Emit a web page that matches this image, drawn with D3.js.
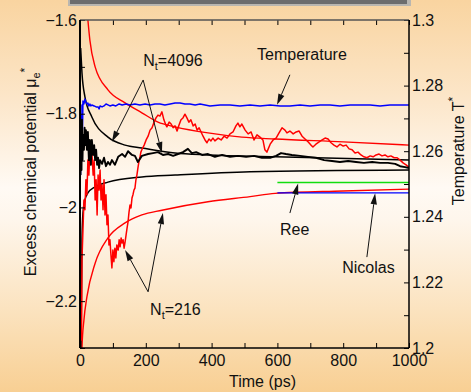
<!DOCTYPE html>
<html><head><meta charset="utf-8">
<script src="https://cdn.jsdelivr.net/npm/d3@7"></script>
<style>html,body{margin:0;padding:0;overflow:hidden;background:#fff}svg{display:block}</style>
</head><body><svg id="c" width="471" height="392"></svg>
<script>
// ---------- data ----------
const timeDomain = [0, 1000];
const muDomain = [-2.3, -1.6];
const tempDomain = [1.2, 1.3];
const timeTicks = [0, 200, 400, 600, 800, 1000];
const timeMinorTicks = [100, 300, 500, 700, 900];
const muTicks = [-2.2, -2, -1.8, -1.6];
const muTickLabels = ["\u22122.2", "\u22122", "\u22121.8", "\u22121.6"];
const muMinorTicks = [-2.3, -2.1, -1.9, -1.7];
const tempTicks = [1.2, 1.22, 1.24, 1.26, 1.28, 1.3];
const tempTickLabels = ["1.2", "1.22", "1.24", "1.26", "1.28", "1.3"];
const tempMinorTicks = [1.21, 1.23, 1.25, 1.27, 1.29];

// temperature T* (right axis), [time ps, T*]
const temperature = [[1.5,1.2527],[3,1.2634],[4,1.2710],[5,1.2573],[6,1.2741],[7.6,1.2665],[9,1.2753],[12,1.2744],[15,1.2759],[18,1.2750],[21,1.2744],[24,1.2747],[27,1.2738],[30,1.2744],[33,1.2738],[36,1.2741],[43,1.2738],[49,1.2735],[55,1.2735],[58,1.2729],[61,1.2738],[67,1.2735],[73,1.2738],[79,1.2744],[85,1.2741],[91,1.2738],[100,1.2741],[109,1.2738],[119,1.2744],[128,1.2741],[140,1.2744],[152,1.2741],[167,1.2744],[182,1.2741],[198,1.2744],[213,1.2741],[228,1.2744],[243,1.2744],[258,1.2741],[274,1.2744],[289,1.2747],[304,1.2747],[319,1.2744],[334,1.2744],[350,1.2741],[365,1.2744],[380,1.2741],[395,1.2738],[426,1.2741],[456,1.2741],[486,1.2738],[517,1.2741],[547,1.2738],[578,1.2741],[608,1.2738],[638,1.2738],[669,1.2741],[699,1.2738],[730,1.2741],[760,1.2741],[790,1.2738],[821,1.2741],[851,1.2741],[882,1.2741],[912,1.2738],[942,1.2741],[973,1.2741],[1000,1.2741]];

// N_t = 216 running estimate, [time, mu]
const mu216 = [[1.5,-2.300],[3,-2.198],[4.6,-2.283],[6,-2.112],[9,-2.048],[12,-1.984],[15,-2.005],[18,-1.941],[21,-1.973],[24,-1.899],[27,-1.931],[30,-1.877],[33,-1.909],[36,-1.882],[40,-1.931],[43,-1.899],[46,-1.984],[49,-1.941],[52,-2.016],[55,-1.931],[58,-1.963],[61,-1.920],[64,-1.984],[67,-1.952],[70,-2.005],[73,-1.941],[76,-2.016],[79,-1.973],[82,-2.037],[85,-2.016],[88,-2.080],[91,-2.069],[94,-2.101],[97,-2.129],[100,-2.091],[103,-2.116],[106,-2.087],[109,-2.108],[112,-2.080],[116,-2.091],[119,-2.069],[122,-2.084],[125,-2.065],[128,-2.076],[131,-2.069],[134,-2.087],[137,-2.074],[140,-2.059],[143,-2.044],[146,-2.031],[149,-2.010],[152,-1.995],[155,-2.001],[158,-1.980],[161,-1.973],[164,-1.963],[167,-1.959],[170,-1.941],[173,-1.931],[176,-1.916],[179,-1.903],[182,-1.894],[185,-1.882],[188,-1.877],[195,-1.867],[201,-1.856],[207,-1.848],[213,-1.835],[219,-1.830],[225,-1.818],[231,-1.809],[237,-1.803],[243,-1.805],[249,-1.796],[255,-1.813],[261,-1.824],[264,-1.828],[271,-1.818],[277,-1.822],[283,-1.830],[289,-1.826],[295,-1.837],[301,-1.824],[307,-1.813],[313,-1.809],[319,-1.801],[325,-1.809],[331,-1.818],[337,-1.813],[344,-1.826],[350,-1.822],[356,-1.835],[362,-1.830],[368,-1.839],[374,-1.848],[380,-1.856],[386,-1.862],[392,-1.854],[398,-1.858],[404,-1.852],[410,-1.858],[420,-1.852],[429,-1.856],[438,-1.848],[447,-1.852],[456,-1.843],[465,-1.839],[474,-1.826],[480,-1.820],[486,-1.828],[492,-1.822],[502,-1.835],[511,-1.843],[520,-1.839],[529,-1.856],[538,-1.845],[547,-1.850],[556,-1.856],[562,-1.877],[568,-1.882],[578,-1.865],[587,-1.856],[596,-1.852],[605,-1.841],[614,-1.830],[623,-1.835],[629,-1.841],[638,-1.837],[648,-1.843],[657,-1.839],[666,-1.837],[675,-1.848],[684,-1.854],[693,-1.860],[702,-1.867],[708,-1.871],[717,-1.865],[727,-1.860],[736,-1.856],[745,-1.852],[754,-1.854],[763,-1.862],[772,-1.867],[781,-1.871],[790,-1.865],[800,-1.869],[809,-1.867],[818,-1.875],[827,-1.877],[836,-1.884],[845,-1.882],[854,-1.888],[863,-1.892],[872,-1.894],[882,-1.890],[891,-1.892],[900,-1.888],[909,-1.886],[918,-1.890],[927,-1.888],[936,-1.892],[945,-1.890],[955,-1.894],[964,-1.894],[973,-1.899],[982,-1.905],[991,-1.909],[1000,-1.914]];
const mu216Upper = [[18,-1.55],[24,-1.600],[30,-1.643],[46,-1.700],[85,-1.749],[137,-1.777],[188,-1.798],[237,-1.818],[289,-1.828],[389,-1.841],[492,-1.850],[593,-1.854],[800,-1.860],[1000,-1.867]];
const mu216Lower = [[4,-2.35],[6,-2.300],[12,-2.240],[21,-2.191],[46,-2.119],[85,-2.065],[137,-2.033],[188,-2.016],[249,-2.006],[389,-1.988],[517,-1.977],[593,-1.970],[800,-1.965],[1000,-1.961]];

// N_t = 4096 running estimate, [time, mu]
const mu4096 = [[1.5,-1.931],[3,-1.824],[4.6,-1.920],[6,-1.813],[7.6,-1.899],[9,-1.845],[12,-1.877],[14,-1.830],[15,-1.867],[18,-1.835],[21,-1.877],[24,-1.839],[27,-1.899],[30,-1.856],[33,-1.909],[36,-1.856],[40,-1.888],[43,-1.867],[46,-1.899],[49,-1.877],[52,-1.909],[55,-1.894],[58,-1.916],[61,-1.899],[67,-1.907],[73,-1.894],[79,-1.912],[85,-1.903],[91,-1.909],[97,-1.899],[106,-1.909],[116,-1.892],[128,-1.886],[137,-1.892],[146,-1.880],[158,-1.888],[167,-1.890],[176,-1.903],[188,-1.890],[207,-1.886],[222,-1.884],[237,-1.882],[252,-1.888],[268,-1.886],[283,-1.890],[298,-1.886],[313,-1.882],[328,-1.875],[340,-1.884],[353,-1.882],[371,-1.888],[389,-1.886],[410,-1.892],[432,-1.888],[456,-1.892],[480,-1.890],[505,-1.892],[529,-1.890],[553,-1.894],[578,-1.894],[596,-1.890],[611,-1.884],[626,-1.886],[644,-1.888],[669,-1.890],[693,-1.892],[717,-1.894],[742,-1.899],[766,-1.901],[790,-1.903],[815,-1.901],[839,-1.903],[863,-1.905],[888,-1.903],[912,-1.905],[936,-1.905],[958,-1.907],[973,-1.912],[988,-1.914],[1000,-1.916]];
const mu4096Upper = [[2,-1.66],[6,-1.713],[15,-1.764],[36,-1.807],[85,-1.850],[137,-1.867],[188,-1.873],[289,-1.884],[389,-1.888],[593,-1.892],[1000,-1.899]];
const mu4096Lower = [[3,-2.300],[6,-2.069],[9,-2.012],[15,-1.984],[24,-1.969],[46,-1.956],[85,-1.946],[188,-1.935],[289,-1.931],[517,-1.924],[1000,-1.920]];

// reference values
const reeLine = [[600,-1.947],[1000,-1.947]];
const nicolasLine = [[600,-1.969],[1000,-1.969]];

// annotations: label anchor [t, mu] and arrows [from, to] in data units
const annotations = [
  {label:["N","t","=4096"], at:[192,-1.698], arrows:[[[192,-1.728],[97,-1.860]],[[192,-1.728],[249,-1.884]]]},
  {label:["Temperature"], at:[538,-1.685], arrows:[[[638,-1.717],[599,-1.781]]]},
  {label:["Ree"], at:[608,-2.059], arrows:[[[638,-2.012],[663,-1.949]]]},
  {label:["Nicolas"], at:[797,-2.140], arrows:[[[872,-2.106],[897,-1.970]]]},
  {label:["N","t","=216"], at:[213,-2.229], arrows:[[[207,-2.180],[137,-2.091]],[[207,-2.180],[252,-2.012]]]}
];

// ---------- drawing ----------
const W = 471, H = 392;
const FONT = "'Liberation Sans', Arial, Helvetica, sans-serif";
const svg = d3.select("#c");
const defs = svg.append("defs");
const grad = defs.append("linearGradient").attr("id","bg").attr("x1",0).attr("y1",0).attr("x2",0).attr("y2",1);
[[0,"#f9d4a0"],[0.25,"#fce6c9"],[0.48,"#fffaf4"],[0.56,"#fef6ec"],[0.8,"#fbe2bd"],[1,"#f8cf93"]]
  .forEach(([o,c]) => grad.append("stop").attr("offset",o).attr("stop-color",c));
svg.append("rect").attr("width",W).attr("height",H).attr("fill","url(#bg)");

// top grey bar
svg.append("rect").attr("x",68).attr("y",-3).attr("width",343).attr("height",9).attr("fill","#b9b6b0");
svg.append("rect").attr("x",70).attr("y",-3).attr("width",337).attr("height",7).attr("fill","#6d6d6d");

const L = 80, R = 409, T = 20, B = 348;
const x = d3.scaleLinear().domain(timeDomain).range([L, R]);
const y = d3.scaleLinear().domain(muDomain).range([B, T]);
const yT = d3.scaleLinear().domain(tempDomain).range([B, T]);

defs.append("clipPath").attr("id","plot").append("rect")
  .attr("x",L).attr("y",T).attr("width",R-L).attr("height",B-T);

const plot = svg.append("g").attr("clip-path","url(#plot)");
const lineMu = d3.line().x(d => x(d[0])).y(d => y(d[1]));
const lineMuSmooth = d3.line().x(d => x(d[0])).y(d => y(d[1])).curve(d3.curveMonotoneX);
const lineT = d3.line().x(d => x(d[0])).y(d => yT(d[1]));

function path(g, data, gen, color, w) {
  g.append("path").datum(data).attr("d", gen).attr("fill","none")
    .attr("stroke", color).attr("stroke-width", w).attr("stroke-linejoin","round");
}
path(plot, mu216Upper, lineMuSmooth, "#ff0000", 1.4);
path(plot, mu216Lower, lineMuSmooth, "#ff0000", 1.4);
path(plot, mu4096Upper, lineMuSmooth, "#000000", 1.5);
path(plot, mu4096Lower, lineMuSmooth, "#000000", 1.5);
path(plot, temperature, lineT, "#0000ff", 1.5);
path(plot, reeLine, lineMu, "#11dd11", 1.5);
path(plot, nicolasLine, lineMu, "#0000ff", 1.4);
path(plot, mu216, lineMu, "#ff0000", 1.5);
path(plot, mu4096, lineMu, "#000000", 1.9);

// axes
function styleAxis(g) {
  g.select(".domain").remove();
  g.selectAll("line").attr("stroke","#000").attr("stroke-width",1);
  g.selectAll("text").attr("font-family",FONT).attr("font-size","16px").attr("fill","#111");
}
const muLabel = v => { const i = muTicks.indexOf(v); return i >= 0 ? muTickLabels[i] : ""; };
const tLabel = v => { const i = tempTicks.indexOf(v); return i >= 0 ? tempTickLabels[i] : ""; };

svg.append("g").attr("transform",`translate(${L},0)`)
  .call(d3.axisLeft(y).tickValues(muTicks.concat(muMinorTicks)).tickSize(-5).tickPadding(3).tickFormat(muLabel))
  .call(styleAxis);
svg.append("g").attr("transform",`translate(${R},0)`)
  .call(d3.axisRight(yT).tickValues(tempTicks.concat(tempMinorTicks)).tickSize(-5).tickPadding(3).tickFormat(tLabel))
  .call(styleAxis);
svg.append("g").attr("transform",`translate(0,${B})`)
  .call(d3.axisBottom(x).tickValues(timeTicks.concat(timeMinorTicks)).tickSize(-5).tickPadding(7)
    .tickFormat(v => timeTicks.includes(v) ? String(v) : ""))
  .call(styleAxis);
svg.append("g").attr("transform",`translate(0,${T})`)
  .call(d3.axisTop(x).tickValues(timeTicks.concat(timeMinorTicks)).tickSize(-5).tickFormat(""))
  .call(styleAxis);

// frame
svg.append("line").attr("x1",L).attr("x2",R).attr("y1",T).attr("y2",T).attr("stroke","#555").attr("stroke-width",1.5);
svg.append("line").attr("x1",L).attr("x2",R).attr("y1",B).attr("y2",B).attr("stroke","#000").attr("stroke-width",1.5);
svg.append("line").attr("x1",L).attr("x2",L).attr("y1",T).attr("y2",B).attr("stroke","#000").attr("stroke-width",2);
svg.append("line").attr("x1",R).attr("x2",R).attr("y1",T).attr("y2",B).attr("stroke","#000").attr("stroke-width",1.5);

// axis titles
svg.append("text").attr("x",262.5).attr("y",387).attr("text-anchor","middle")
  .attr("font-family",FONT).attr("font-size","16px").attr("fill","#111").text("Time (ps)");
const lt = svg.append("text").attr("transform","translate(36,172) rotate(-90)").attr("text-anchor","middle")
  .attr("font-family",FONT).attr("font-size","16px").attr("fill","#111");
lt.append("tspan").text("Excess chemical potential \u03bc");
lt.append("tspan").attr("font-size","11px").attr("dy",4).text("e");
lt.append("tspan").attr("font-size","12px").attr("dy",-11).text("*");
const rt = svg.append("text").attr("transform","translate(464,151) rotate(-90)").attr("text-anchor","middle")
  .attr("font-family",FONT).attr("font-size","16px").attr("fill","#111");
rt.append("tspan").text("Temperature T");
rt.append("tspan").attr("font-size","12px").attr("dy",-7).text("*");

// annotations
const ann = svg.append("g");
function arrow(p0, p1) {
  const x0 = x(p0[0]), y0 = y(p0[1]), x1 = x(p1[0]), y1 = y(p1[1]);
  const a = Math.atan2(y1 - y0, x1 - x0), len = 11, hw = 3.2;
  const bx = x1 - len * Math.cos(a), by = y1 - len * Math.sin(a);
  ann.append("line").attr("x1",x0).attr("y1",y0).attr("x2",bx).attr("y2",by).attr("stroke","#111").attr("stroke-width",1);
  const pts = [[x1,y1],[bx + hw*Math.sin(a), by - hw*Math.cos(a)],[bx - hw*Math.sin(a), by + hw*Math.cos(a)]];
  ann.append("polygon").attr("points", pts.map(p => p.join(",")).join(" ")).attr("fill","#111");
}
annotations.forEach(a => {
  const t = ann.append("text").attr("x", x(a.at[0])).attr("y", y(a.at[1]))
    .attr("font-family",FONT).attr("font-size","16px").attr("fill","#111");
  if (a.label.length === 3) {
    t.append("tspan").text(a.label[0]);
    t.append("tspan").attr("font-size","11px").attr("dy",4).text(a.label[1]);
    t.append("tspan").attr("dy",-4).text(a.label[2]);
  } else {
    t.text(a.label[0]);
  }
  a.arrows.forEach(ar => arrow(ar[0], ar[1]));
});
</script></body></html>
